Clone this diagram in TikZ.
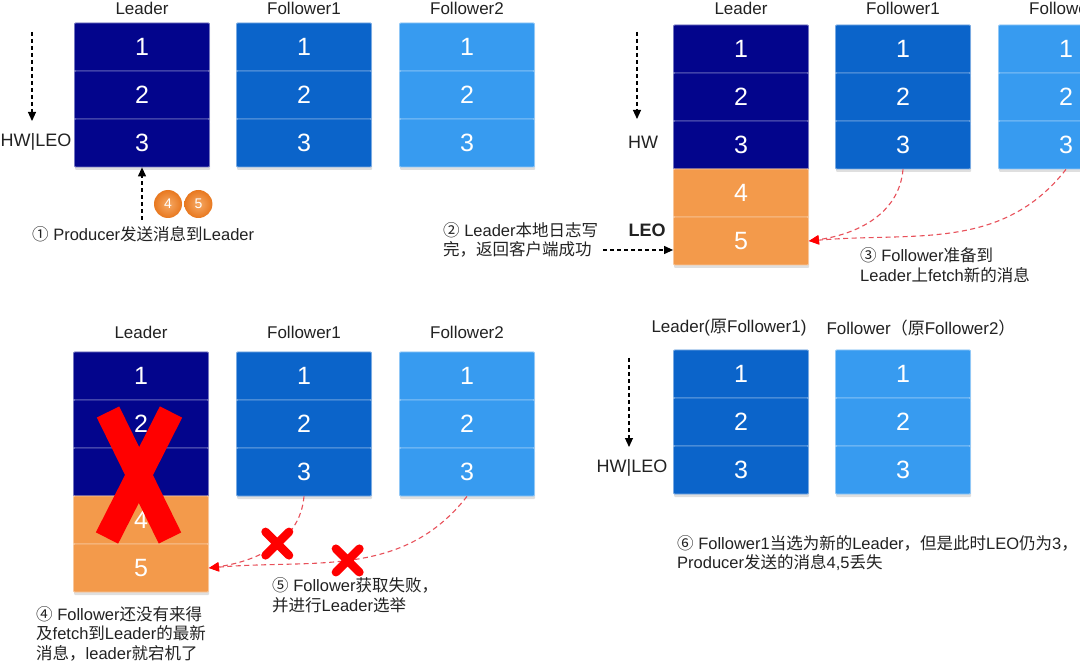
\documentclass[tikz,border=0pt]{standalone}
\usepackage{fontspec}
\setmainfont{Liberation Sans}
\newfontfamily\cjkfont{Noto Sans CJK SC}
\newcommand{\zhtext}[1]{{\cjkfont #1}}
\usetikzlibrary{arrows.meta, positioning, shadows, shapes.misc}

\definecolor{leadblue}{HTML}{03058C}
\definecolor{folblue}{HTML}{0B64CA}
\definecolor{skyblue}{HTML}{379BF0}
\definecolor{msgorange}{HTML}{F39A4B}
\definecolor{ballinner}{HTML}{F6AA66}
\definecolor{ballouter}{HTML}{E8781F}
\definecolor{fetchred}{HTML}{E8505A}
\definecolor{txtgray}{HTML}{222222}

\begin{document}
\begin{tikzpicture}[x=1pt, y=-1pt,
    logcell/.style={fill=#1, draw=white!45!#1, line width=0.8pt, rounded corners=1pt,
      minimum width=135pt, minimum height=48pt, inner sep=0pt, text=white,
      font=\fontsize{25}{25}\selectfont,
      drop shadow={opacity=0.25, shadow xshift=0.6pt, shadow yshift=-3pt}},
    head/.style={font=\fontsize{17}{17}\selectfont, text=txtgray, inner sep=0pt},
    notetext/.style={font=\fontsize{16.5}{19.5}\selectfont, text=txtgray, align=left, inner sep=0pt, anchor=west},
    hwlabel/.style={font=\fontsize{18}{18}\selectfont, text=txtgray, inner sep=0pt},
    blackarrow/.style={draw=black, line width=1.1pt, dash pattern=on 4pt off 3pt, -{Triangle[length=9pt, width=8pt]}},
    redarrow/.style={draw=fetchred, line width=1.1pt, dash pattern=on 5pt off 3.5pt, -{Triangle[length=10pt, width=9pt, color=red]}},
    msgball/.style={circle, inner color=ballinner, outer color=ballouter, minimum size=28pt, inner sep=0pt, text=white, font=\fontsize{14}{14}\selectfont},
    failmark/.style={solid, cross out, draw=red, line width=8.5pt, line cap=round, minimum size=15pt, inner sep=0pt},
    crash/.style={draw=red, line width=25pt}
  ]
  \useasboundingbox (0,0) rectangle (1080,671);
  \fill[white] (0,0) rectangle (1080,671);
  \clip (0,0) rectangle (1080,671);

  % (1) producer sends 4,5 to the leader
  \foreach \i in {1,2,3} {
    \node[logcell=leadblue] (a-L\i) at (142,{48*\i-1}) {\i};
    \node[logcell=folblue] (a-F\i) at (304,{48*\i-1}) {\i};
    \node[logcell=skyblue] (a-G\i) at (467,{48*\i-1}) {\i};
  }
  \node[head, above=8pt of a-L1] (a-hL) {Leader};
  \node[head, above=8pt of a-F1] (a-hF) {Follower1};
  \node[head, above=8pt of a-G1] (a-hG) {Follower2};
  \node[hwlabel] (a-hw) at (36,142) {HW|LEO};
  \coordinate (a-hwtop) at (32,32);
  \coordinate (a-hwbot) at (32,121);
  \draw[blackarrow] (a-hwtop) -- (a-hwbot);
  \node[notetext] (a-prod) at (32,234) {\zhtext{①} Producer\zhtext{发送消息到}Leader};
  \coordinate (a-prodtail) at (142,220);
  \draw[blackarrow] (a-prodtail) -- (a-L3.south);
  \node[msgball] (a-m4) at (168,204) {4};
  \node[msgball, right=2pt of a-m4] (a-m5) {5};

  % (2)+(3) leader appends 4,5, followers fetch
  \foreach \i in {1,2,3} {
    \node[logcell=leadblue] (b-L\i) at (741,{48*\i+1}) {\i};
    \node[logcell=folblue] (b-F\i) at (903,{48*\i+1}) {\i};
    \node[logcell=skyblue] (b-G\i) at (1066,{48*\i+1}) {\i};
  }
  \foreach \i in {4,5}
    \node[logcell=msgorange] (b-L\i) at (741,{48*\i+1}) {\i};
  \node[head, above=10pt of b-L1] (b-hL) {Leader};
  \node[head, above=10pt of b-F1] (b-hF) {Follower1};
  \node[head, above=10pt of b-G1] (b-hG) {Follower2};
  \node[hwlabel] (b-hw) at (643,142) {HW};
  \coordinate (b-hwtop) at (637,32);
  \coordinate (b-hwbot) at (637,119);
  \draw[blackarrow] (b-hwtop) -- (b-hwbot);
  \node[hwlabel, font=\fontsize{18}{18}\selectfont\bfseries] (b-leo) at (647,230) {LEO};
  \node[notetext] (b-ret) at (443,240) {\zhtext{②} Leader\zhtext{本地日志写}\\\zhtext{完，返回客户端成功}};
  \coordinate (b-rettail) at (603,250);
  \draw[blackarrow] (b-rettail) -- (b-rettail -| b-L5.west);
  \draw[redarrow] (b-F3.south) to[out=-95, in=8] (b-L5.east);
  \draw[redarrow] (b-G3.south) to[out=-128, in=5] (b-L5.east);
  \node[notetext] (b-fetch) at (860,265) {\zhtext{③} Follower\zhtext{准备到}\\Leader\zhtext{上}fetch\zhtext{新的消息}};

  % (4)+(5) leader crashes before the fetch
  \foreach \i in {1,2,3} {
    \node[logcell=leadblue] (c-L\i) at (141,{48*\i+328}) {\i};
    \node[logcell=folblue] (c-F\i) at (304,{48*\i+328}) {\i};
    \node[logcell=skyblue] (c-G\i) at (467,{48*\i+328}) {\i};
  }
  \foreach \i in {4,5}
    \node[logcell=msgorange] (c-L\i) at (141,{48*\i+328}) {\i};
  \node[head, above=13pt of c-L1] (c-hL) {Leader};
  \node[head, above=13pt of c-F1] (c-hF) {Follower1};
  \node[head, above=13pt of c-G1] (c-hG) {Follower2};
  \draw[crash] (108,412) -- (170,538);
  \draw[crash] (171,412) -- (107,538);
  \draw[redarrow] (c-F3.south) to[out=-95, in=8] node[failmark, pos=0.45] (c-x1) {} (c-L5.east);
  \draw[redarrow] (c-G3.south) to[out=-128, in=5] node[failmark, pos=0.52] (c-x2) {} (c-L5.east);
  \node[notetext] (c-down) at (36,633.5) {\zhtext{④} Follower\zhtext{还没有来得}\\\zhtext{及}fetch\zhtext{到}Leader\zhtext{的最新}\\\zhtext{消息，}leader\zhtext{就宕机了}};
  \node[notetext] (c-fail) at (272,595) {\zhtext{⑤} Follower\zhtext{获取失败，}\\\zhtext{并进行}Leader\zhtext{选举}};

  % (6) follower1 becomes the new leader
  \foreach \i in {1,2,3} {
    \node[logcell=folblue] (d-L\i) at (741,{48*\i+326}) {\i};
    \node[logcell=skyblue] (d-F\i) at (903,{48*\i+326}) {\i};
  }
  \node[head, above=13pt of d-L1, xshift=-12pt] (d-hL) {Leader(\zhtext{原}Follower1)};
  \node[head, above=13pt of d-F1, xshift=18pt] (d-hF) {Follower\zhtext{（原}Follower2\zhtext{）}};
  \node[hwlabel] (d-hw) at (632,468) {HW|LEO};
  \coordinate (d-hwtop) at (629,358);
  \coordinate (d-hwbot) at (629,447);
  \draw[blackarrow] (d-hwtop) -- (d-hwbot);
  \node[notetext] (d-new) at (677,553) {\zhtext{⑥} Follower1\zhtext{当选为新的}Leader\zhtext{，但是此时}LEO\zhtext{仍为}3\zhtext{，}\\Producer\zhtext{发送的消息}4,5\zhtext{丢失}};
\end{tikzpicture}
\end{document}
